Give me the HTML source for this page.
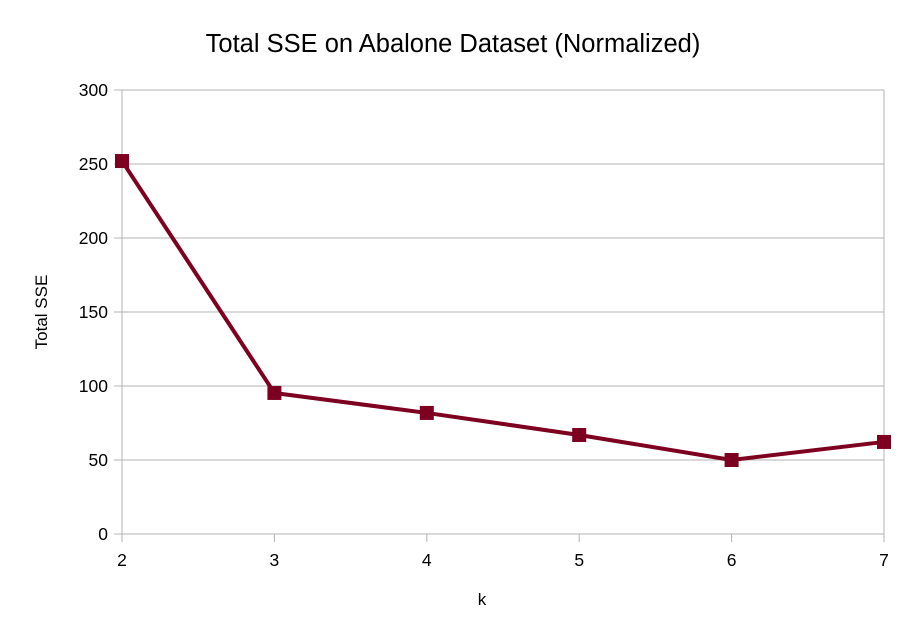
<!DOCTYPE html>
<html><head><meta charset="utf-8"><style>
html,body{margin:0;padding:0;background:#fff;}
svg text{font-family:"Liberation Sans",sans-serif;fill:#000;}
</style></head><body>
<svg id="chart" width="908" height="638" xmlns="http://www.w3.org/2000/svg">
<text x="453" y="52" font-size="25.5" text-anchor="middle">Total SSE on Abalone Dataset (Normalized)</text>
<text transform="translate(47,312) rotate(-90)" font-size="17" text-anchor="middle">Total SSE</text>
<text x="482" y="605" font-size="17" text-anchor="middle">k</text>
<g id="grid"></g><g id="axes"></g><g id="series"></g>
</svg>
<script>
const categories = [2, 3, 4, 5, 6, 7];
const sseValues = [252, 95.3, 81.8, 66.9, 50, 62.2];
const yTicks = [0, 50, 100, 150, 200, 250, 300];
const NS = "http://www.w3.org/2000/svg";
const L = 122, R = 884, T = 90, B = 534, yMax = 300;
function xs(i){ return L + (R - L) * i / (categories.length - 1); }
function ys(v){ return B - (B - T) * v / yMax; }
function mk(tag, attrs, parent){ const e = document.createElementNS(NS, tag); for (const k in attrs) e.setAttribute(k, attrs[k]); parent.appendChild(e); return e; }
const grid = document.getElementById('grid'), axes = document.getElementById('axes'), series = document.getElementById('series');
yTicks.forEach(t => {
  const g = mk('line', {x1: L - 8, x2: R, y1: ys(t), y2: ys(t), stroke: '#b3b3b3', 'stroke-width': 1}, grid);
  
  
  const tx = mk('text', {x: L - 14, y: ys(t) + 6, 'font-size': 17.5, 'text-anchor': 'end'}, axes);
  tx.textContent = t;
  
  
});
categories.forEach((c, i) => {
  const ln = mk('line', {x1: xs(i), x2: xs(i), y1: T, y2: B + 8, stroke: '#b3b3b3', 'stroke-width': 1}, grid);
  if (i !== 0 && i !== categories.length - 1) { ln.setAttribute('y1', B); }
  
  
  const tx = mk('text', {x: xs(i), y: B + 32, 'font-size': 17.5, 'text-anchor': 'middle'}, axes);
  tx.textContent = c;
  
  
});
const pts = sseValues.map((v, i) => xs(i) + ',' + ys(v)).join(' ');
const pl = mk('polyline', {points: pts, fill: 'none', stroke: '#7e0021', 'stroke-width': 4, 'stroke-linejoin': 'round'}, series);


sseValues.forEach((v, i) => {
  const r = mk('rect', {x: xs(i) - 7, y: ys(v) - 7, width: 14, height: 14, fill: '#7e0021'}, series);
  
  
});
</script>
</body></html>
